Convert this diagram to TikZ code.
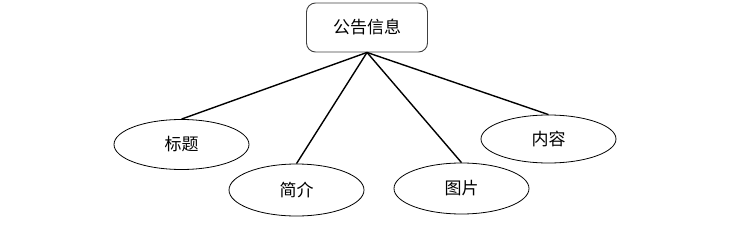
\documentclass[tikz,border=0pt]{standalone}
\usepackage{fontspec}
\setmainfont{Noto Sans CJK SC}
\usetikzlibrary{shapes.geometric}
\begin{document}
\begin{tikzpicture}[x=1pt,y=-1pt,
  every node/.style={font=\fontsize{17}{19}\selectfont},
  topbox/.style={draw=black!75, line width=0.9pt, rounded corners=9pt, minimum width=121pt, minimum height=49pt, inner sep=0pt},
  attr/.style={ellipse, draw=black, line width=0.8pt, minimum width=135pt, minimum height=50pt, inner sep=0pt},
  link/.style={line width=1.4pt, draw=black}]
\useasboundingbox (0,0) rectangle (738,235);
\node[topbox] (top) at (367,27.5) {公告信息};
\node[attr] (e1) at (181.5,144.5) {标题};
\node[attr, minimum height=52pt] (e2) at (296.5,190) {简介};
\node[attr, minimum height=51pt] (e3) at (461.5,188.5) {图片};
\node[attr, minimum height=48pt] (e4) at (548.5,139) {内容};
\draw[link] (top.south) -- (e1.north);
\draw[link] (top.south) -- (e2.north);
\draw[link] (top.south) -- (e3.north);
\draw[link] (top.south) -- (e4.north);
\end{tikzpicture}
\end{document}
